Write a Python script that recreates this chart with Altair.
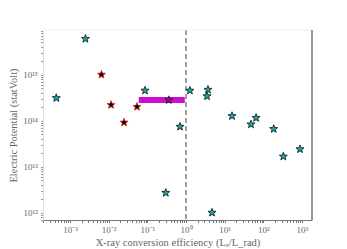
import math
import altair as alt
import pandas as pd

# ---- data ----
cyan_x = [4.4e-4, 2.5e-3, 0.087, 0.70, 0.30, 1.26, 3.7, 3.5, 15.5, 48, 65, 186, 330, 890, 4.7]
cyan_y = [3.1e14, 6.0e15, 4.5e14, 7.4e13, 2.7e12, 4.5e14, 4.7e14, 3.4e14, 1.26e14,
          8.3e13, 1.15e14, 6.6e13, 1.66e13, 2.4e13, 1.0e12]
red_x = [6.5e-3, 0.0115, 0.025, 0.054]
red_y = [1.0e15, 2.2e14, 9.1e13, 2.0e14]
mag_x = [0.36]
mag_y = [2.8e14]
bar_x1 = [0.06]
bar_x2 = [0.93]
bar_y = [2.8e14]
vline_x = [1.0]

x_major = [0.001, 0.01, 0.1, 1, 10, 100, 1000]
x_major_labels = ["10⁻³", "10⁻²", "10⁻¹", "10⁰", "10¹", "10²", "10³"]
y_major = [1e12, 1e13, 1e14, 1e15]
y_major_labels = ["10¹²", "10¹³", "10¹⁴", "10¹⁵"]

x_domain = [10 ** -3.70, 10 ** 3.26]
y_domain = [10 ** 11.84, 10 ** 15.97]

x_title = "X-ray conversion efficiency (Lₓ/L_rad)"
y_title = "Electric Potential (statVolt)"

# ---- helpers ----
def minor_ticks(lo, hi):
    out = []
    e0, e1 = math.floor(math.log10(lo)), math.ceil(math.log10(hi))
    for e in range(e0, e1 + 1):
        for m in range(1, 10):
            v = m * 10.0 ** e
            if lo <= v <= hi:
                out.append(float(f"{v:.6g}"))
    return out

def label_expr(values, labels):
    expr = "''"
    for v, l in reversed(list(zip(values, labels))):
        expr = f"(abs(datum.value / {v!r} - 1) < 1e-6) ? '{l}' : ({expr})"
    return expr

# star path (matplotlib-like '*')
pts = []
for i in range(10):
    ang = -math.pi / 2 + i * math.pi / 5
    r = 1.0 if i % 2 == 0 else 0.42
    pts.append(f"{r*math.cos(ang):.4f},{r*math.sin(ang):.4f}")
star = "M" + "L".join(pts) + "Z"

FONT = "Liberation Serif"
TXT = "#666666"

xs = alt.Scale(type="log", domain=x_domain, nice=False, clamp=False)
ys = alt.Scale(type="log", domain=y_domain, nice=False, clamp=False)

x_axis = alt.Axis(values=minor_ticks(*x_domain), labelExpr=label_expr(x_major, x_major_labels),
                  title=x_title, tickSize=2.5, tickColor="#777777", domainColor="#777777",
                  labelFont=FONT, titleFont=FONT, labelFontSize=9, titleFontSize=10.5,
                  labelColor=TXT, titleColor=TXT, titleFontWeight="normal", grid=False,
                  labelPadding=3, titlePadding=3, labelOverlap=False, labelFlush=False)
y_axis = alt.Axis(values=minor_ticks(*y_domain), labelExpr=label_expr(y_major, y_major_labels),
                  title=y_title, tickSize=2.5, tickColor="#999999", domainColor="#dddddd",
                  labelFont=FONT, titleFont=FONT, labelFontSize=9, titleFontSize=10.5,
                  labelColor=TXT, titleColor=TXT, titleFontWeight="normal", grid=False,
                  labelPadding=3, titlePadding=4, labelOverlap=False, labelFlush=False)

cyan = pd.DataFrame({"x": cyan_x, "y": cyan_y})
red = pd.DataFrame({"x": red_x, "y": red_y})
mag = pd.DataFrame({"x": mag_x, "y": mag_y})
bar = pd.DataFrame({"x": bar_x1, "x2": bar_x2, "y": bar_y})
vl = pd.DataFrame({"x": vline_x})

vline = alt.Chart(vl).mark_rule(color="#777777", strokeWidth=1.4, strokeDash=[5, 3]).encode(
    x=alt.X("x:Q", scale=xs, axis=x_axis))

bar_layer = alt.Chart(bar).mark_rule(color="#cc00cc", strokeWidth=6, opacity=0.95).encode(
    x=alt.X("x:Q", scale=xs, axis=x_axis), x2="x2:Q",
    y=alt.Y("y:Q", scale=ys, axis=y_axis))

def stars(df, fill, stroke):
    return alt.Chart(df).mark_point(shape=star, size=72, filled=True, fill=fill, stroke=stroke,
                                    strokeWidth=0.8, opacity=1).encode(
        x=alt.X("x:Q", scale=xs, axis=x_axis),
        y=alt.Y("y:Q", scale=ys, axis=y_axis))

frame_top = alt.Chart(vl).mark_rule(color="#eeeeee", strokeWidth=1).encode(
    x=alt.value(0), x2=alt.value(269), y=alt.value(0))
frame_right = alt.Chart(vl).mark_rule(color="#555555", strokeWidth=1.2).encode(
    x=alt.value(269), y=alt.value(0), y2=alt.value(190))

chart = alt.layer(
    vline, bar_layer,
    stars(cyan, "#12a6a6", "#111111"),
    stars(red, "#000000", "#e8231f"),
    stars(mag, "#a300a3", "#222222"),
    frame_top, frame_right,
).properties(
    width=269, height=190,
    autosize=alt.AutoSizeParams(type="none"),
    padding={"left": 35, "top": 22, "right": 20, "bottom": 30},
).configure_view(stroke=None)

chart.save("out.html", embed_options={"renderer": "svg", "actions": False})
